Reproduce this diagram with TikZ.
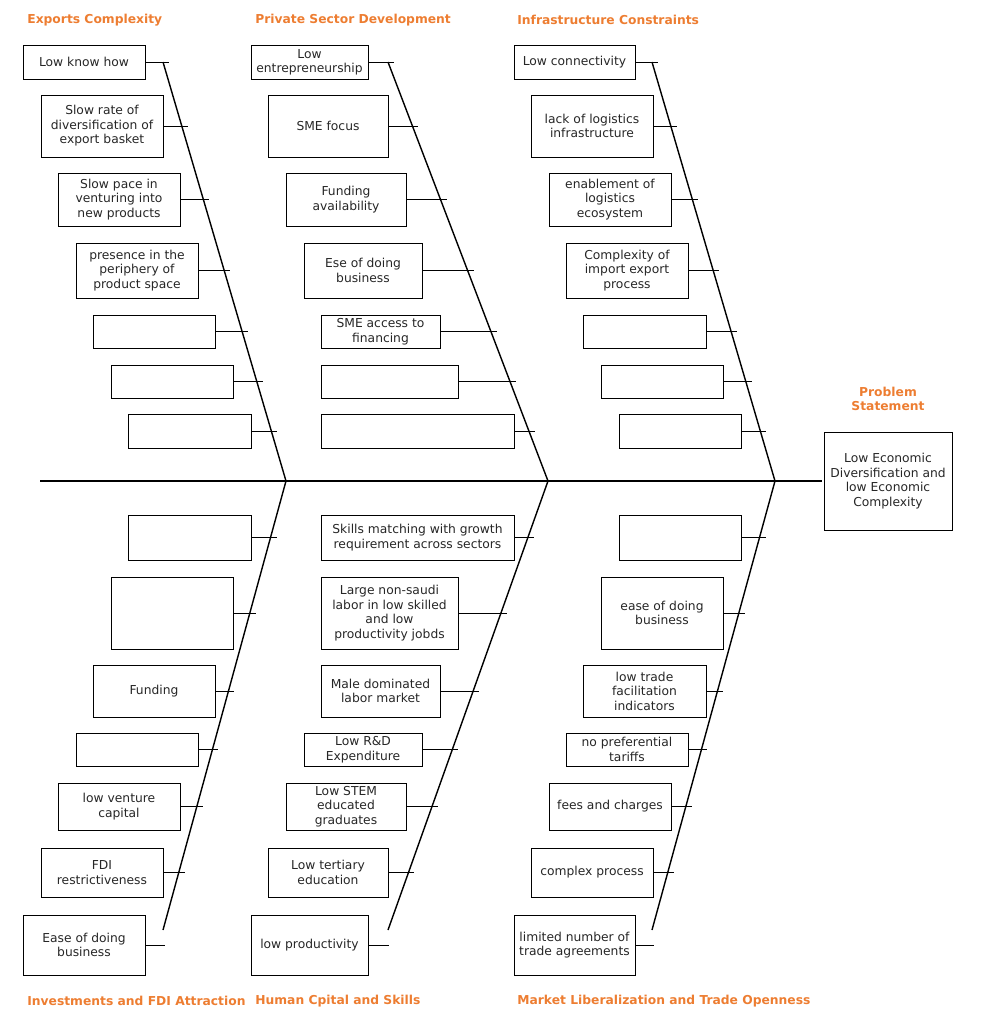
\documentclass[tikz,border=0pt]{standalone}
\usepackage{fontspec}
\setmainfont{DejaVu Sans}
\usepackage{tikz}
\definecolor{catorange}{RGB}{237,125,49}
\tikzset{
  box/.style = {draw, line width=0.5pt, align=center, inner sep=1pt,
                font=\fontsize{7}{8.2}\selectfont, text=black!85},
  cat/.style = {font=\bfseries\fontsize{7}{8.4}\selectfont, text=catorange, inner sep=0pt},
  bone/.style = {line width=0.8pt},
  tick/.style = {line width=0.5pt}
}
% one group of causes along a bone from (x0,y0) to (x1,y1)
\newcommand{\causes}[5]{%
  \foreach \l/\t/\r/\b/\txt [count=\i] in {#5} {
    \pgfmathsetmacro\w{(\r-\l)*0.2}
    \pgfmathsetmacro\h{(\b-\t)*0.2}
    \pgfmathsetmacro\ym{(\t+\b)/2}
    \pgfmathsetmacro\tx{#1+((\ym-#2)/(#4-#2))*(#3-#1)+6}
    \node[box, minimum width=\w mm, minimum height=\h mm] (c#1\i) at ({(\l+\r)/2},\ym) {\txt};
    \coordinate (t#1\i) at (\tx,\ym);
    \draw[tick] (c#1\i.east) -- (t#1\i);
  }}
\begin{document}
\begin{tikzpicture}[x=0.2mm, y=-0.2mm]
  \useasboundingbox (0,0) rectangle (991,1024);

  % spine and bones
  \coordinate (s0) at (40,481);
  \coordinate (s1) at (822,481);
  \draw[bone] (s0) -- (s1);
  \foreach \a/\b in {163/286, 388/548, 652/775} {
    \coordinate (top\a) at (\a,62);
    \coordinate (mid\a) at (\b,481);
    \coordinate (bot\a) at (\a,930);
    \draw[bone] (top\a) -- (mid\a) -- (bot\a);
  }

  % problem statement
  \node[box, minimum width=25.6mm, minimum height=19.6mm] (prob) at (888,481)
    {Low Economic\\Diversification and\\low Economic\\Complexity};
  \node[cat, align=center] (probl) at (888,399) {Problem\\Statement};

  % categories
  \node[cat, anchor=west] (k1) at (27,20) {Exports Complexity};
  \node[cat, anchor=west] (k2) at (255,20) {Private Sector Development};
  \node[cat, anchor=west] (k3) at (517,20) {Infrastructure Constraints};
  \node[cat, anchor=west] (k4) at (27,1001) {Investments and FDI Attraction};
  \node[cat, anchor=west] (k5) at (255,1001) {Human Cpital and Skills};
  \node[cat, anchor=west] (k6) at (517,1001) {Market Liberalization and Trade Openness};

  % top bones
  \causes{163}{62}{286}{481}{
    23/45/145/79/{Low know how},
    41/95/163/157/{Slow rate of\\diversification of\\export basket},
    58/173/180/226/{Slow pace in\\venturing into\\new products},
    76/243/198/298/{presence in the\\periphery of\\product space},
    93/315/215/348/{},
    111/365/233/398/{},
    128/414/251/448/{}}
  \causes{388}{62}{548}{481}{
    251/45/368/79/{Low\\entrepreneurship},
    268/95/388/157/{SME focus},
    286/173/406/226/{Funding\\availability},
    304/243/422/298/{Ese of doing\\business},
    321/315/440/348/{SME access to\\financing},
    321/365/458/398/{},
    321/414/514/448/{}}
  \causes{652}{62}{775}{481}{
    514/45/635/79/{Low connectivity},
    531/95/653/157/{lack of logistics\\infrastructure},
    549/173/671/226/{enablement of\\logistics\\ecosystem},
    566/243/688/298/{Complexity of\\import export\\process},
    583/315/706/348/{},
    601/365/723/398/{},
    619/414/741/448/{}}

  % bottom bones
  \causes{286}{481}{163}{930}{
    128/515/251/560/{},
    111/577/233/649/{},
    93/665/215/717/{Funding},
    76/733/198/766/{},
    58/783/180/830/{low venture\\capital},
    41/848/163/897/{FDI\\restrictiveness},
    23/915/145/975/{Ease of doing\\business}}
  \causes{548}{481}{388}{930}{
    321/515/514/560/{Skills matching with growth\\requirement across sectors},
    321/577/458/649/{Large non-saudi\\labor in low skilled\\and low\\productivity jobds},
    321/665/440/717/{Male dominated\\labor market},
    304/733/422/766/{Low R\&D\\Expenditure},
    286/783/406/830/{Low STEM\\educated\\graduates},
    268/848/388/897/{Low tertiary\\education},
    251/915/368/975/{low productivity}}
  \causes{775}{481}{652}{930}{
    619/515/741/560/{},
    601/577/723/649/{ease of doing\\business},
    583/665/706/717/{low trade\\facilitation\\indicators},
    566/733/688/766/{no preferential\\tariffs},
    549/783/671/830/{fees and charges},
    531/848/653/897/{complex process},
    514/915/635/975/{limited number of\\trade agreements}}
\end{tikzpicture}
\end{document}
